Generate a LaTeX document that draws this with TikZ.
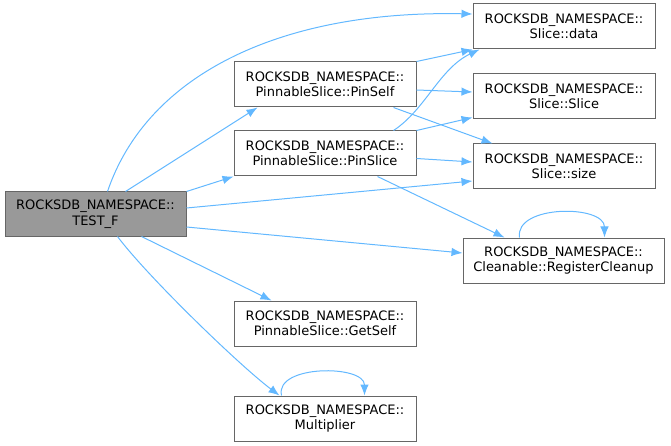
\documentclass[tikz,border=0pt]{standalone}
\usepackage{fontspec}
\setmainfont{DejaVu Sans}
\usetikzlibrary{arrows.meta}
\definecolor{arco}{HTML}{63B8FF}
\definecolor{bordo}{HTML}{666666}
\definecolor{grigio}{HTML}{999999}
\tikzset{
  funz/.style={draw=bordo, line width=1pt, fill=white, align=center, inner sep=0pt,
    minimum width=182pt, minimum height=45pt, font=\fontsize{13}{15.5}\selectfont},
  freccia/.style={draw=arco, line width=1pt, -{Latex[length=11pt,width=8.5pt]}}
}
\begin{document}
\begin{tikzpicture}[x=1pt,y=-1pt]
        \useasboundingbox (0,0) rectangle (671,446);
        % nodo di partenza
        \node[funz,fill=grigio,minimum width=181pt,minimum height=44pt] (test) at (95.5,214) {ROCKSDB\_NAMESPACE::\\TEST\_F};
        % colonna centrale
        \node[funz] (pinself) at (325,84.5) {ROCKSDB\_NAMESPACE::\\PinnableSlice::PinSelf};
        \node[funz] (pinslice) at (325,153.5) {ROCKSDB\_NAMESPACE::\\PinnableSlice::PinSlice};
        \node[funz] (getself) at (325,323.5) {ROCKSDB\_NAMESPACE::\\PinnableSlice::GetSelf};
        \node[funz] (mult) at (325,418.5) {ROCKSDB\_NAMESPACE::\\Multiplier};
        % colonna destra
        \node[funz] (data) at (564,26.5) {ROCKSDB\_NAMESPACE::\\Slice::data};
        \node[funz] (slice) at (564,96.5) {ROCKSDB\_NAMESPACE::\\Slice::Slice};
        \node[funz] (size) at (564,166.5) {ROCKSDB\_NAMESPACE::\\Slice::size};
        \node[funz,minimum width=201pt] (cleanup) at (563.5,260.5) {ROCKSDB\_NAMESPACE::\\Cleanable::RegisterCleanup};

        % archi da TEST_F
        \draw[freccia] ([xshift=103pt]test.north west) .. controls +(40,-118) and +(-190,-4) .. ([yshift=12.5pt]data.west);
        \draw[freccia] ([xshift=121pt]test.north west) -- ([xshift=24pt]pinself.south west);
        \draw[freccia] (test.north east) -- (pinslice.south west);
        \draw[freccia] ([yshift=6pt]test.east) -- ([yshift=-14.5pt]size.west);
        \draw[freccia] ([yshift=-13pt]test.east) -- ([yshift=7.5pt]cleanup.west);
        \draw[freccia] ([xshift=137pt]test.south west) -- ([xshift=38pt]getself.north west);
        \draw[freccia] ([xshift=113pt]test.south west) .. controls +(30,40) and +(-40,-30) .. ([xshift=46pt]mult.north west);

        % archi da PinSelf
        \draw[freccia] (pinself.north east) -- (data.south west);
        \draw[freccia] ([yshift=-5.5pt]pinself.east) -- ([yshift=4.5pt]slice.west);
        \draw[freccia] ([xshift=-23pt]pinself.south east) -- ([xshift=20pt]size.north west);

        % archi da PinSlice
        \draw[freccia] ([xshift=-23pt]pinslice.north east) .. controls +(32,-21) and +(-40,19) .. ([xshift=7pt]data.south west);
        \draw[freccia] (pinslice.north east) -- ([yshift=2pt]slice.south west);
        \draw[freccia] ([yshift=-5pt]pinslice.east) -- ([yshift=4.5pt]size.west);
        \draw[freccia] ([xshift=-39pt]pinslice.south east) -- ([xshift=42pt]cleanup.north west);

        % cappi
        \draw[freccia] ([xshift=57pt]cleanup.north west) .. controls +(-5,-33) and +(0,-33) .. ([xshift=142pt]cleanup.north west);
        \draw[freccia] ([xshift=48pt]mult.north west) .. controls +(-7,-31) and +(0,-31) .. ([xshift=131pt]mult.north west);
\end{tikzpicture}
\end{document}
